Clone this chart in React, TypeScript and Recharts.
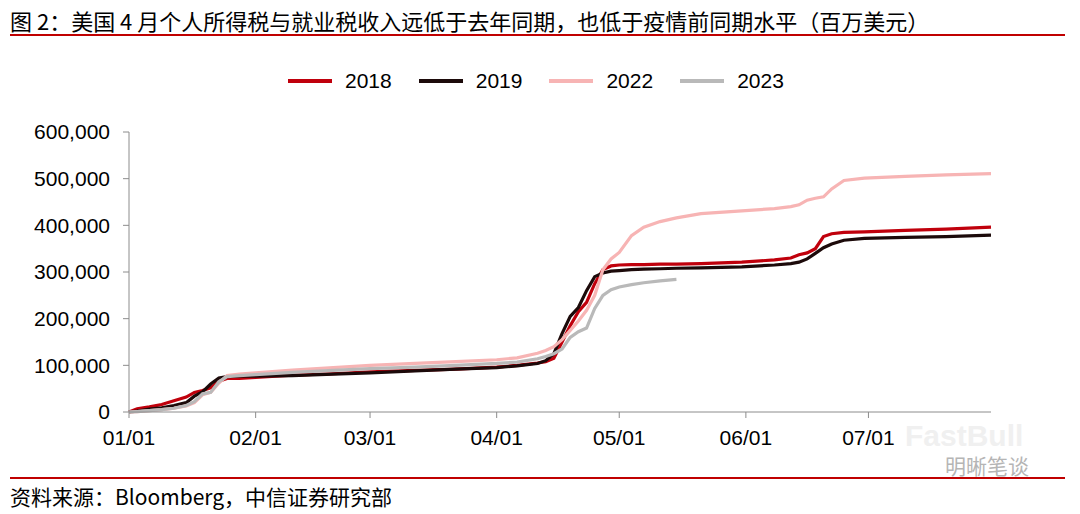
import React from 'react';
import { LineChart, Line, XAxis, YAxis } from 'recharts';

// day of year (01/01 = 0)
const days = [
  0, 2, 5, 8, 11, 14, 16, 18, 20, 22,
  24, 27, 31, 40, 50, 59, 70, 80, 90, 95,
  100, 102, 104, 106, 108, 110, 112, 114, 116, 118,
  120, 123, 126, 130, 134,
  140, 150, 158, 162, 164, 166, 168, 170, 172, 175, 180, 190, 200, 211,
];

// cumulative receipts, million USD
const y2018 = [
  0, 7000, 11000, 16000, 24000, 32000, 42000, 46000, 52000, 66000,
  72000, 72000, 74000, 79000, 82000, 86000, 89000, 92000, 96000, 100000,
  105000, 108000, 115000, 150000, 185000, 215000, 235000, 275000, 305000, 313000,
  315000, 316000, 316000, 317000, 317000,
  318000, 321000, 326000, 330000, 337000, 341000, 350000, 376000, 382000, 385000, 386000, 389000, 392000, 396000,
];
const y2019 = [
  0, 2000, 6000, 9000, 14000, 20000, 34000, 43000, 60000, 73000,
  76000, 77000, 77000, 78000, 81000, 84000, 88000, 92000, 95000, 99000,
  104000, 110000, 125000, 168000, 205000, 224000, 260000, 290000, 298000, 302000,
  303000, 305000, 306000, 307000, 308000,
  309000, 311000, 315000, 318000, 321000, 328000, 340000, 352000, 360000, 368000, 372000, 374000, 376000, 379000,
];
const y2022 = [
  0, 1000, 3000, 5000, 8000, 13000, 20000, 37000, 42000, 62000,
  78000, 81000, 84000, 90000, 95000, 100000, 104000, 108000, 112000, 116000,
  126000, 132000, 140000, 155000, 175000, 195000, 218000, 250000, 305000, 328000,
  342000, 378000, 396000, 408000, 416000,
  425000, 431000, 436000, 440000, 444000, 454000, 458000, 461000, 478000, 496000, 501000, 505000, 508000, 511000,
];
const y2023 = [
  0, 1000, 3000, 5000, 8000, 14000, 22000, 39000, 42000, 65000,
  76000, 78000, 80000, 85000, 89000, 93000, 96000, 100000, 104000, 107000,
  114000, 119000, 125000, 135000, 160000, 172000, 180000, 222000, 250000, 262000,
  268000, 273000, 277000, 281000, 284000,
  null, null, null, null, null, null, null, null, null, null, null, null, null, null,
];

const tickDays = [0, 31, 59, 90, 120, 151, 181];
const tickLabels = ['01/01', '02/01', '03/01', '04/01', '05/01', '06/01', '07/01'];
const yTicks = [0, 100000, 200000, 300000, 400000, 500000, 600000];

const seriesNames = ['2018', '2019', '2022', '2023'];
const seriesColors = ['#C0000C', '#1C0A0A', '#F7B4B4', '#B9B9B9'];

const data = days.map((d, i) => ({
  day: d,
  '2018': y2018[i],
  '2019': y2019[i],
  '2022': y2022[i],
  '2023': y2023[i],
}));

const cjk = '"Noto Sans CJK SC", "Liberation Sans", sans-serif';
const latin = '"Liberation Sans", Arial, sans-serif';

export default function App() {
  return (
    <div style={{ position: 'absolute', left: 0, top: 0, width: 1080, height: 514, background: '#fff', overflow: 'hidden' }}>
      <div style={{ position: 'absolute', left: 10, top: 7, fontSize: 22, lineHeight: '26px', fontFamily: cjk, color: '#000', whiteSpace: 'nowrap' }}>
        图 2：美国 4 月个人所得税与就业税收入远低于去年同期，也低于疫情前同期水平（百万美元）
      </div>
      <div style={{ position: 'absolute', left: 10, top: 34, width: 1055, height: 2, background: '#C00000' }} />

      {/* legend */}
      <div style={{ position: 'absolute', left: 288, top: 69, display: 'flex', alignItems: 'center', fontFamily: latin, fontSize: 21, lineHeight: '24px' }}>
        {seriesNames.map((name, i) => (
          <div key={name} style={{ display: 'flex', alignItems: 'center', marginRight: 27 }}>
            <span style={{ display: 'inline-block', width: 44, height: 4, background: seriesColors[i], marginRight: 13 }} />
            <span>{name}</span>
          </div>
        ))}
      </div>

      <LineChart
        width={1080}
        height={514}
        data={data}
        margin={{ top: 132, right: 89, left: 29, bottom: 62 }}
        style={{ position: 'absolute', left: 0, top: 0 }}
      >
        <XAxis
          dataKey="day"
          type="number"
          domain={[0, 211]}
          ticks={tickDays}
          tickFormatter={(v) => tickLabels[tickDays.indexOf(v)]}
          stroke="#8c8c8c"
          tickSize={6}
          tickMargin={12}
          height={40}
          tick={{ fill: '#000', fontSize: 21, fontFamily: latin }}
        />
        <YAxis
          type="number"
          domain={[0, 600000]}
          ticks={yTicks}
          tickFormatter={(v) => v.toLocaleString('en-US')}
          stroke="#8c8c8c"
          tickSize={6}
          tickMargin={13}
          width={100}
          tick={{ fill: '#000', fontSize: 21, fontFamily: latin }}
        />
        {seriesNames.map((name, i) => (
          <Line
            key={name}
            dataKey={name}
            stroke={seriesColors[i]}
            strokeWidth={3.2}
            dot={false}
            type="linear"
            isAnimationActive={false}
          />
        ))}
      </LineChart>

      {/* watermark */}
      <div style={{ position: 'absolute', left: 905, top: 420, fontSize: 30, lineHeight: '32px', fontWeight: 'bold', fontFamily: latin, color: '#f0f0f0' }}>FastBull</div>
      <div style={{ position: 'absolute', left: 945, top: 454, fontSize: 21, lineHeight: '22px', fontFamily: cjk, color: '#b5b5b5' }}>明晰笔谈</div>

      <div style={{ position: 'absolute', left: 10, top: 477, width: 1055, height: 2, background: '#C00000' }} />
      <div style={{ position: 'absolute', left: 10, top: 484, fontSize: 21, lineHeight: '25px', fontFamily: cjk, color: '#000', whiteSpace: 'nowrap' }}>
        资料来源：Bloomberg，中信证券研究部
      </div>
    </div>
  );
}
